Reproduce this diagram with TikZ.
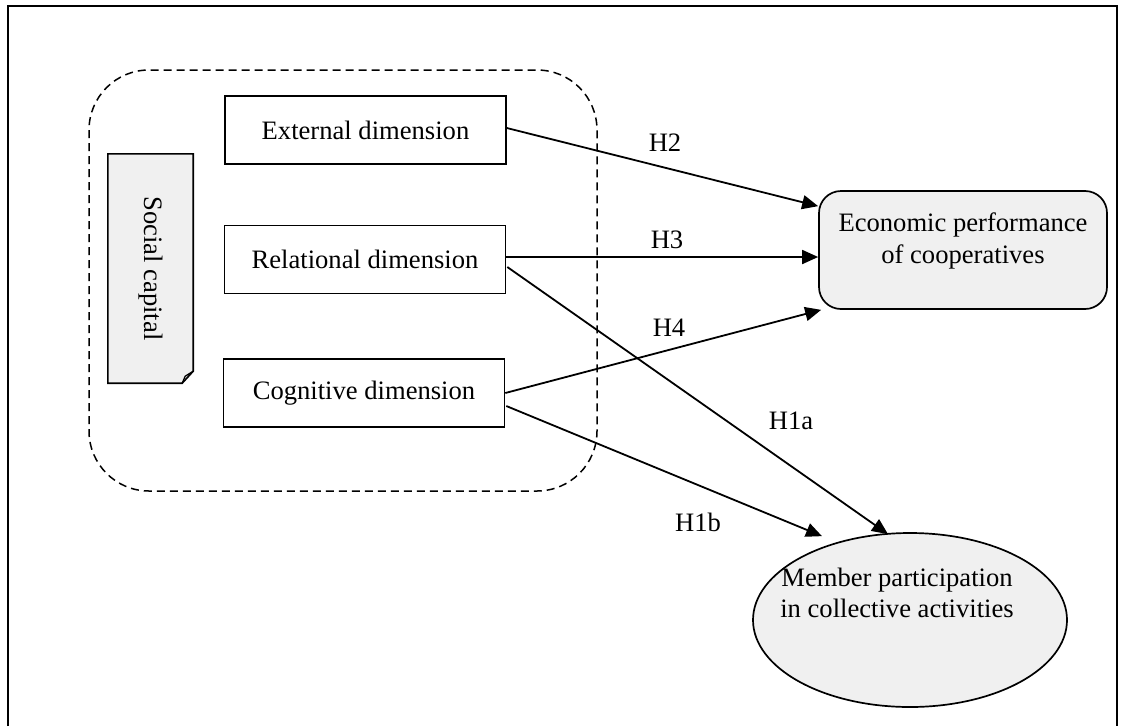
\documentclass[tikz,border=0pt]{standalone}
\usepackage{fontspec}
\setmainfont{Liberation Serif}
\usetikzlibrary{arrows.meta,shapes.geometric,calc}
\definecolor{boxfill}{HTML}{F0F0F0}
\begin{document}
\begin{tikzpicture}[x=1pt,y=-1pt,
  every node/.style={font=\fontsize{26.6}{31.5}\selectfont, inner sep=0pt},
  dimbox/.style={draw, line width=1.6pt, minimum width=281pt, minimum height=68pt},
  conn/.style={line width=1.8pt, -{Triangle[length=16pt,width=14pt]}},
  hlabel/.style={anchor=center},
  outcome/.style={draw, line width=1.7pt, fill=boxfill}
]
\useasboundingbox (0,0) rectangle (1123,726);
% outer frame (open at the bottom)
\draw[line width=2.6pt] (8,726) -- (8,6) -- (1117,6) -- (1117,726);
% dashed group
\draw[line width=1.5pt, dash pattern=on 8pt off 5pt, rounded corners=60pt] (89,70) rectangle (597,491);
% social capital note
\node[minimum width=85pt, minimum height=229pt] (sc) at (150.5,268.5) {};
\draw[line width=1.6pt, fill=boxfill] (sc.north west) -- (sc.north east) -- ($(sc.south east)+(0,-12)$) -- ($(sc.south east)+(-11,0)$) -- (sc.south west) -- cycle;
\draw[line width=1.3pt] ($(sc.south east)+(-11,0)$) -- ($(sc.south east)+(-8,-7)$) -- ($(sc.south east)+(0,-12)$);
\node[rotate=-90] (sct) at (sc.center) {Social capital};
% dimension boxes
\node[dimbox] (ext) at (365.5,130) {External dimension};
\node[dimbox] (rel) at (365,259.5) {Relational dimension};
\node[dimbox] (cog) at (364,393) {Cognitive dimension};
% outcomes
\node[outcome, rounded corners=22pt, minimum width=288pt, minimum height=118pt] (econ) at (963,250) {};
\node[align=center] (econt) at (963,241) {Economic performance\\of cooperatives};
\node[outcome, ellipse, minimum width=314pt, minimum height=174pt] (mp) at (910,620) {};
\node[align=center] (mpt) at (897,593) {Member participation\\in collective activities};
% connectors
\draw[conn] ($(ext.east)+(0,-2)$) -- ($(econ.north west)+(0,16)$);
\draw[conn] ($(rel.east)+(0,-2.5)$) -- ($(econ.west)+(0,7)$);
\draw[conn] (cog.east) -- ($(econ.south west)+(3,0)$);
\draw[conn] ($(rel.east)+(1,7.5)$) -- ($(mp.north)+(-22,2)$);
\draw[conn] ($(cog.east)+(1,13)$) -- ($(mp.north)+(-88,4)$);
% labels
\node[hlabel] (h2) at (665,143) {H2};
\node[hlabel] (h3) at (667,240) {H3};
\node[hlabel] (h4) at (669,328) {H4};
\node[hlabel] (h1a) at (791,421) {H1a};
\node[hlabel] (h1b) at (698,522) {H1b};
\end{tikzpicture}
\end{document}
